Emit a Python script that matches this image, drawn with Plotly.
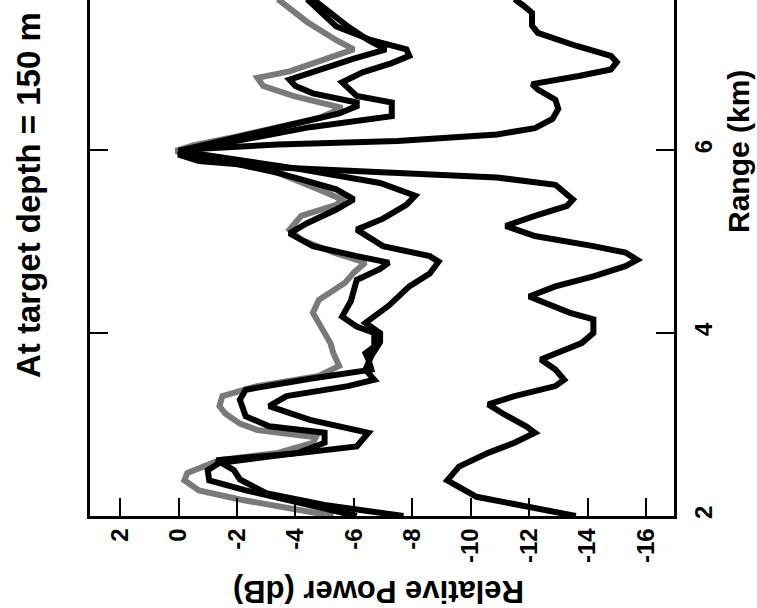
import plotly.graph_objects as go

# ---- data (Range in km, Relative Power in dB) ----
far_range = [2.00, 2.21, 2.39, 2.54, 2.69, 2.80, 2.91, 2.98, 3.12, 3.22, 3.31, 3.42, 3.49, 3.60,
             3.71, 3.78, 3.89, 4.00, 4.15, 4.22, 4.33, 4.40, 4.51, 4.62, 4.73, 4.80, 4.88, 4.95,
             5.06, 5.17, 5.28, 5.39, 5.46, 5.62, 5.70, 5.75, 5.81, 5.88, 5.95, 6.01, 6.06, 6.10,
             6.17, 6.24, 6.34, 6.45, 6.55, 6.66, 6.72, 6.81, 6.88, 6.96, 7.03, 7.14, 7.28, 7.36,
             7.43, 7.50, 7.58, 7.65]
far_db = [-13.6, -10.2, -9.2, -9.6, -10.6, -11.5, -12.2, -11.9, -11.1, -10.6, -11.5, -12.9, -13.2, -12.9,
          -12.4, -12.9, -13.8, -14.2, -14.2, -13.4, -12.5, -12.0, -12.9, -14.2, -15.3, -15.7, -15.3, -14.2,
          -12.2, -11.2, -12.2, -13.3, -13.5, -12.9, -10.9, -7.5, -3.4, -0.7, 0.0, -0.4, -3.4, -7.5,
          -10.9, -12.2, -12.8, -13.0, -12.9, -12.3, -12.1, -13.7, -14.8, -15.0, -14.8, -13.6, -12.3, -12.1,
          -12.1, -12.1, -11.8, -11.5]

gray_range = [2.00, 2.07, 2.18, 2.28, 2.39, 2.47, 2.61, 2.69, 2.80, 2.86, 2.94, 3.01, 3.12, 3.20,
              3.31, 3.42, 3.53, 3.64, 3.78, 3.89, 4.07, 4.22, 4.36, 4.55, 4.66, 4.77, 4.88, 5.02,
              5.13, 5.28, 5.40, 5.46, 5.57, 5.79, 5.99, 6.05, 6.15, 6.25, 6.35, 6.46, 6.52, 6.59,
              6.70, 6.79, 6.86, 6.95, 7.03, 7.10, 7.20, 7.40, 7.65]
gray_db = [-5.3, -4.1, -2.1, -0.7, -0.2, -0.3, -1.4, -3.4, -4.6, -4.7, -2.7, -2.1, -1.6, -1.4,
           -1.5, -2.7, -4.8, -5.5, -5.3, -5.2, -4.9, -4.6, -4.8, -5.7, -6.0, -6.4, -5.3, -4.2,
           -3.8, -4.2, -5.4, -5.6, -4.8, -3.1, 0.1, -0.5, -2.0, -3.5, -4.8, -5.6, -4.8, -3.95,
           -2.9, -2.7, -3.8, -4.6, -5.3, -6.0, -5.4, -4.4, -3.4]

b1_range = [2.00, 2.15, 2.28, 2.39, 2.50, 2.58, 2.69, 2.80, 2.91, 2.98, 3.09, 3.27, 3.38, 3.50,
            3.60, 3.71, 3.78, 3.85, 4.00, 4.07, 4.18, 4.35, 4.58, 4.70, 4.77, 4.84, 4.95, 5.09,
            5.20, 5.35, 5.46, 5.57, 5.75, 5.99, 6.10, 6.25, 6.40, 6.48, 6.52, 6.62, 6.70, 6.77,
            6.90, 7.00, 7.10, 7.20, 7.35, 7.50, 7.65]
b1_db = [-6.1, -4.0, -2.3, -1.05, -1.0, -1.4, -4.1, -5.0, -5.0, -3.1, -2.3, -2.1, -2.3, -4.5,
         -6.6, -6.5, -6.4, -6.7, -6.7, -6.1, -5.6, -5.9, -6.1, -6.9, -7.2, -6.1, -4.6, -3.8,
         -4.4, -5.4, -6.0, -5.4, -3.4, 0.0, -1.5, -3.6, -5.5, -6.1, -6.1, -4.6, -4.0, -3.8,
         -5.0, -6.0, -7.1, -6.5, -5.8, -5.2, -4.6]

b2_range = [2.00, 2.12, 2.25, 2.40, 2.50, 2.61, 2.69, 2.76, 2.91, 2.94, 3.05, 3.20, 3.31, 3.42,
            3.49, 3.60, 3.75, 3.90, 4.00, 4.11, 4.30, 4.51, 4.65, 4.78, 4.84, 4.95, 5.13, 5.25,
            5.40, 5.50, 5.64, 5.80, 5.99, 6.10, 6.25, 6.37, 6.52, 6.59, 6.74, 6.85, 6.95, 7.03,
            7.10, 7.20, 7.35, 7.50, 7.65]
b2_db = [-7.7, -5.0, -3.0, -2.1, -1.9, -1.3, -4.2, -6.1, -6.5, -6.1, -4.5, -3.1, -3.7, -5.8,
         -6.7, -6.4, -6.6, -6.9, -6.9, -6.4, -7.2, -7.9, -8.6, -8.9, -8.6, -7.0, -6.1, -7.0,
         -7.8, -8.1, -6.9, -4.0, 0.0, -2.0, -4.5, -7.3, -7.3, -6.1, -5.6, -6.3, -7.3, -7.9,
         -7.8, -6.6, -5.4, -4.9, -4.4]

db_ticks = [2, 0, -2, -4, -6, -8, -10, -12, -14, -16]
range_ticks = [2, 4, 6]

FONT = "Liberation Sans, Arial, Helvetica, sans-serif"

fig = go.Figure()
fig.add_trace(go.Scatter(x=gray_db, y=gray_range, mode="lines",
                         line=dict(color="#7a7a7a", width=6), showlegend=False))
for r, d in [(b1_range, b1_db), (b2_range, b2_db), (far_range, far_db)]:
    fig.add_trace(go.Scatter(x=d, y=r, mode="lines",
                             line=dict(color="black", width=6), showlegend=False))

fig.update_layout(
    width=757, height=608,
    margin=dict(l=90, r=83, t=0, b=92),
    paper_bgcolor="white", plot_bgcolor="white",
    font=dict(family=FONT, color="black"),
    xaxis=dict(range=[3.03, -16.96], tickvals=db_ticks, ticktext=[str(v) for v in db_ticks],
               tickangle=-90, tickfont=dict(size=24, weight="bold"),
               ticks="inside", ticklen=18, tickwidth=2, tickcolor="black",
               showline=True, linewidth=2.5, linecolor="black", mirror=False,
               showgrid=False, zeroline=False),
    yaxis=dict(range=[2, 7.64], tickvals=range_ticks, ticktext=[str(v) for v in range_ticks],
               side="right", tickangle=-90, tickfont=dict(size=24, weight="bold"),
               ticks="inside", ticklen=18, tickwidth=2, tickcolor="black",
               showline=True, linewidth=2.5, linecolor="black", mirror="ticks",
               showgrid=False, zeroline=False, ticklabelstandoff=6),
    annotations=[
        dict(text="At target depth = 150 m", xref="paper", yref="paper",
             x=(28 - 90) / 584, y=1 - 195 / 516, xanchor="center", yanchor="middle",
             textangle=-90, showarrow=False, font=dict(size=33, weight="bold")),
        dict(text="Range (km)", xref="paper", yref="paper",
             x=(738 - 90) / 584, y=1 - 152 / 516, xanchor="center", yanchor="middle",
             textangle=-90, showarrow=False, font=dict(size=30, weight="bold")),
        dict(text="Relative Power (dB)", xref="paper", yref="paper",
             x=(379 - 90) / 584, y=-(592 - 516) / 516, xanchor="center", yanchor="middle",
             textangle=180, showarrow=False, font=dict(size=31, weight="bold")),
    ],
)

fig.write_html("out.html", config={"displayModeBar": False},
               post_script="document.body.style.margin='0';document.body.style.padding='0';")
